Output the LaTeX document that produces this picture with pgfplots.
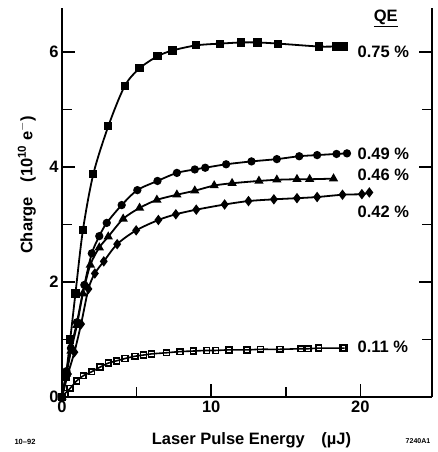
\documentclass[border=0pt]{standalone}
\usepackage{fontspec}
\setmainfont{Liberation Sans}
\usepackage{pgfplots}
\pgfplotsset{compat=1.18}
\begin{document}
\begin{tikzpicture}[font=\fontsize{16.5}{20}\selectfont\bfseries]
\begin{axis}[
  scale only axis, width=370pt, height=389pt,
  xmin=0, xmax=24.8, ymin=0, ymax=6.77,
  axis x line*=bottom,
  xtick={0,10,20}, minor xtick={5,15},
  ytick={0,2,4,6}, minor ytick={1,3,5},
  tick align=inside,
  major tick length=13pt, minor tick length=10pt,
  tick style={line width=1.5pt, black},
  axis line style={line width=1.8pt},
  /pgf/number format/assume math mode=true,
  xlabel={Laser Pulse Energy\hspace{1.0em}(µJ)},
  ylabel={Charge\hspace{0.9em}(10\textsuperscript{10} e\textsuperscript{$-$})},
  every axis x label/.style={at={(axis description cs:0.512,-0.11)}, anchor=center},
  every axis y label/.style={at={(axis description cs:-0.095,0.545)}, rotate=90, anchor=center},
  clip=false,
  every axis plot/.append style={black, line width=1.8pt, smooth, mark size=3.2pt}
]
% QE 0.75 %
\addplot[mark=square*] coordinates {
  (0,0) (0.25,0.35) (0.55,1.0) (0.9,1.8) (1.4,2.9) (2.1,3.88) (3.1,4.71)
  (4.2,5.41) (5.2,5.72) (6.4,5.93) (7.4,6.03) (9.0,6.12) (10.6,6.15)
  (12.0,6.17) (13.1,6.17) (14.5,6.15) (17.2,6.10) (18.4,6.10) (18.9,6.10)};
% QE 0.49 %
\addplot[mark=*] coordinates {
  (0,0) (0.3,0.45) (0.6,0.85) (1.0,1.3) (1.5,1.95) (2.0,2.5) (2.5,2.8)
  (3.0,3.03) (4.0,3.34) (5.05,3.6) (6.4,3.76) (7.7,3.9) (8.9,3.96)
  (9.6,3.99) (11.0,4.05) (12.7,4.1) (14.4,4.14) (15.9,4.19) (17.1,4.21)
  (18.4,4.23) (19.1,4.24)};
% QE 0.46 %
\addplot[mark=triangle*, mark size=3.6pt] coordinates {
  (0,0) (0.3,0.4) (0.6,0.8) (1.0,1.25) (1.4,1.8) (1.9,2.3) (2.5,2.6)
  (3.1,2.79) (4.1,3.1) (5.2,3.29) (6.36,3.43) (7.7,3.52) (8.9,3.59)
  (10.2,3.68) (11.4,3.72) (13.2,3.76) (14.4,3.78) (15.75,3.79)
  (16.6,3.79) (18.2,3.80)};
% QE 0.42 %
\addplot[mark=diamond*, mark size=3.8pt] coordinates {
  (0,0) (0.4,0.4) (0.83,0.78) (1.28,1.27) (1.77,1.88) (2.2,2.15)
  (2.8,2.36) (3.7,2.66) (4.97,2.9) (6.46,3.08) (7.63,3.18) (9.0,3.26)
  (10.9,3.35) (12.5,3.41) (14.2,3.44) (15.75,3.46) (17.1,3.48)
  (18.8,3.52) (20.1,3.53) (20.6,3.56)};
% QE 0.11 %
\addplot[mark=square, line width=1.6pt, mark size=2.9pt, mark options={fill=white}] coordinates {
  (0,0) (0.2,0.06) (0.54,0.15) (0.98,0.28) (1.43,0.37) (1.99,0.44)
  (2.55,0.52) (3.1,0.59) (3.67,0.63) (4.23,0.67) (4.9,0.71) (5.46,0.73)
  (6.0,0.75) (7.0,0.77) (7.9,0.79) (8.8,0.8) (9.7,0.81) (10.3,0.81)
  (11.2,0.82) (12.4,0.82) (13.3,0.83) (14.6,0.83) (16.0,0.84)
  (16.5,0.84) (17.2,0.85) (18.8,0.85) (18.9,0.85)};

\node[anchor=center] at (axis cs:21.7,6.59) {\underline{QE}};
\node[anchor=west, inner sep=0pt] at (axis cs:19.8,6.01) {0.75 \%};
\node[anchor=west, inner sep=0pt] at (axis cs:19.8,4.24) {0.49 \%};
\node[anchor=west, inner sep=0pt] at (axis cs:19.8,3.86) {0.46 \%};
\node[anchor=west, inner sep=0pt] at (axis cs:19.8,3.23) {0.42 \%};
\node[anchor=west, inner sep=0pt] at (axis cs:19.8,0.87) {0.11 \%};
\end{axis}
\node[font=\fontsize{7.5}{8}\selectfont\bfseries] at ([shift={(-37pt,-45pt)}]current axis.south west) {10--92};
\node[font=\fontsize{7}{8}\selectfont\bfseries] at ([shift={(356pt,-44pt)}]current axis.south west) {7240A1};
\path (current axis.south west) ++(-62pt,-55pt) rectangle ++(437pt,452pt);
\end{tikzpicture}
\end{document}
